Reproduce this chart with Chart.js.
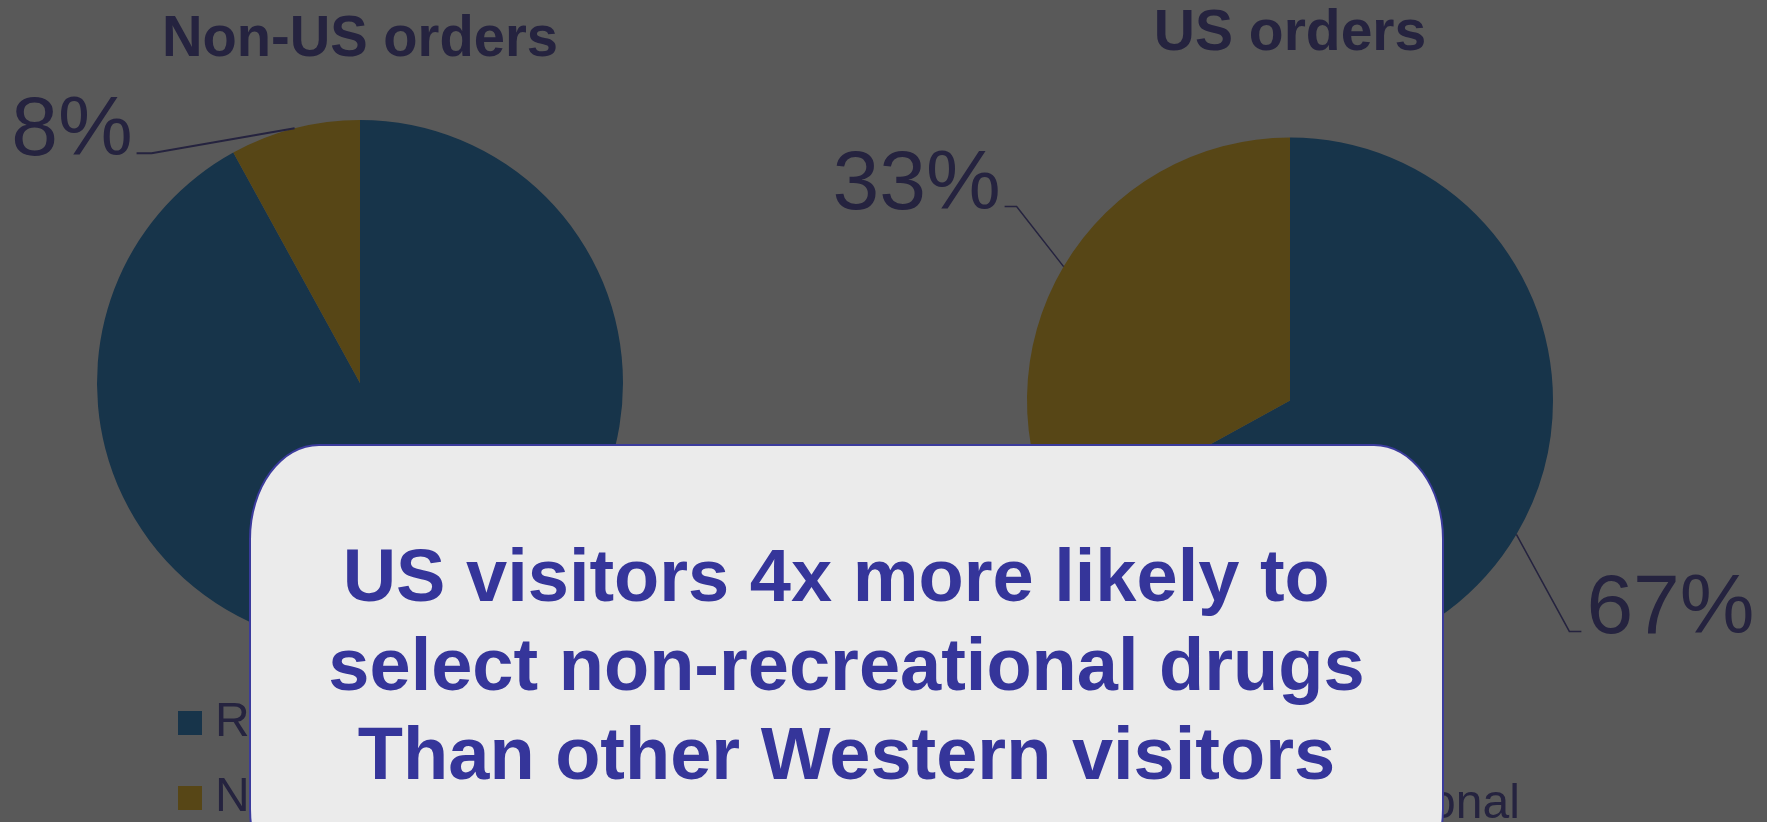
<!DOCTYPE html>
<html lang="en">
<head>
<meta charset="UTF-8">
<title>Non-US vs US orders</title>
<script src="https://cdn.jsdelivr.net/npm/chart.js@4.4.0/dist/chart.umd.min.js"></script>
<style>
  html, body { margin: 0; padding: 0; width: 1767px; height: 822px; overflow: hidden; background: #595959; }
  canvas { position: absolute; left: 0; top: 0; }
  #note {
    position: absolute; left: 249px; top: 444px; width: 1195px; height: 460px;
    box-sizing: border-box; background: #ebebeb; border: 2px solid #3b3b9c;
    border-radius: 70px / 95px; padding-top: 85px;
    font: bold 74px "Liberation Sans", Arial, sans-serif; line-height: 89px;
    color: #35359a; text-align: center;
  }
</style>
</head>
<body>
<canvas id="nonUs" width="1767" height="840"></canvas>
<canvas id="us" width="1767" height="840"></canvas>
<div id="note">US visitors 4x more likely to&nbsp;<br>select non-recreational drugs<br>Than other Western visitors</div>

<script>
// share of orders by drug type
const categories = ['Recreational', 'Non-recreational'];
const nonUsShare = [92, 8];
const usShare = [67, 33];
const sliceColors = ['#17344a', '#574616'];

const inkColor = '#25233f';
const fontFamily = '"Liberation Sans", Arial, sans-serif';

// percent labels with a bent leader line, starting on the arc edge
const leaderLabels = {
  id: 'leaderLabels',
  afterDatasetsDraw(chart, args, opts) {
    const ctx = chart.ctx;
    const values = chart.data.datasets[0].data;
    const total = values.reduce((a, b) => a + b, 0);
    chart.getDatasetMeta(0).data.forEach((arc, i) => {
      const spot = opts.spots[i];
      const p = arc.getProps(['x', 'y', 'startAngle', 'endAngle', 'outerRadius'], true);
      const mid = (p.startAngle + p.endAngle) / 2;
      const x0 = p.x + Math.cos(mid) * p.outerRadius;
      const y0 = p.y + Math.sin(mid) * p.outerRadius;
      const x1 = x0 + spot.dx;
      const y1 = y0 + spot.dy;
      const x2 = x1 + spot.tail;
      ctx.save();
      ctx.strokeStyle = inkColor;
      ctx.lineWidth = opts.lineWidth;
      ctx.beginPath();
      ctx.moveTo(x0, y0);
      ctx.lineTo(x1, y1);
      ctx.lineTo(x2, y1);
      ctx.stroke();
      ctx.fillStyle = inkColor;
      ctx.font = '84px ' + fontFamily;
      ctx.textBaseline = 'alphabetic';
      ctx.textAlign = spot.tail < 0 ? 'right' : 'left';
      ctx.fillText(Math.round(values[i] / total * 100) + '%', x2 + (spot.tail < 0 ? -4 : 5), y1 + 2);
      ctx.restore();
    });
  }
};

// square swatch drawn as a thick stroke round a tiny box, so the text sits close to it
function legendItems(chart) {
  return chart.data.labels.map((text, i) => ({
    text: text,
    fillStyle: sliceColors[i],
    strokeStyle: sliceColors[i],
    lineWidth: 22,
    fontColor: inkColor,
    hidden: false,
    index: i
  }));
}

function makePie(id, title, values, pad, titlePad, rightGap, spots, lineWidth) {
  return new Chart(document.getElementById(id), {
    type: 'pie',
    data: {
      labels: categories,
      datasets: [{
        data: values,
        backgroundColor: sliceColors,
        borderWidth: 0,
        radius: 263
      }]
    },
    options: {
      responsive: false,
      animation: false,
      layout: { padding: pad },
      plugins: {
        title: {
          display: true,
          fullSize: false,
          text: title,
          color: inkColor,
          font: { family: fontFamily, size: 57, weight: 'bold', lineHeight: 1 },
          padding: titlePad
        },
        // empty box on the right: narrows the pie area but not the legend
        subtitle: {
          display: rightGap > 0,
          position: 'right',
          text: '',
          padding: 0,
          font: { size: Math.max(rightGap, 1), lineHeight: 1 }
        },
        legend: {
          position: 'bottom',
          align: 'start',
          labels: {
            boxWidth: 2,
            boxHeight: 2,
            padding: 27,
            color: inkColor,
            font: { family: fontFamily, size: 48 },
            generateLabels: legendItems
          }
        },
        tooltip: { enabled: false },
        leaderLabels: { spots: spots, lineWidth: lineWidth }
      }
    },
    plugins: [leaderLabels]
  });
}

makePie('nonUs', 'Non-US orders', nonUsShare,
  { left: 162, right: 900, top: 0, bottom: 8 },
  { top: 11.5, bottom: 25.5 }, 309,
  [{ dx: 40, dy: 60, tail: 12 }, { dx: -143, dy: 25, tail: -15 }], 2);

makePie('us', 'US orders', usShare,
  { left: 1112, right: 0, top: 0, bottom: 1 },
  { top: 5.5, bottom: 59.5 }, 299,
  [{ dx: 53, dy: 97, tail: 12 }, { dx: -47, dy: -60, tail: -12 }], 1.5);
</script>
</body>
</html>
